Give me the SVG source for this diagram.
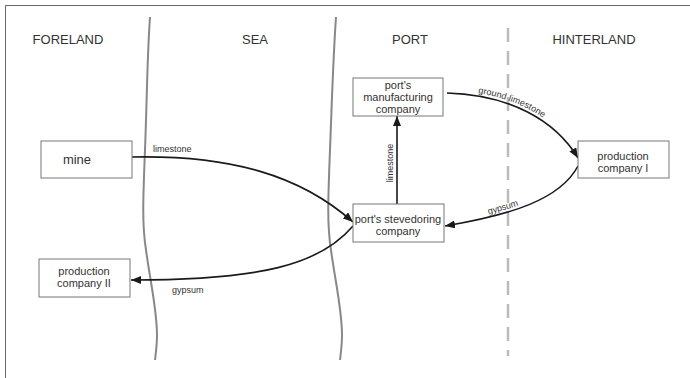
<svg xmlns="http://www.w3.org/2000/svg" width="690" height="378" viewBox="0 0 690 378">
<style>
.hdr{font-family:"Liberation Sans",Arial,sans-serif;font-size:13px;fill:#333;text-anchor:middle}
.bx{fill:#fff;stroke:#777;stroke-width:1}
.bt{font-family:"Liberation Sans",Arial,sans-serif;font-size:11px;fill:#333;text-anchor:middle}
.lb{font-family:"Liberation Sans",Arial,sans-serif;font-size:9px;fill:#333}
.con{fill:none;stroke:#1a1a1a;stroke-width:1.6}
.wave{fill:none;stroke:#888;stroke-width:2}
</style>
<defs>
<marker id="ah" markerUnits="userSpaceOnUse" markerWidth="10" markerHeight="8" refX="10" refY="4" orient="auto">
<path d="M0,0 L10,4 L0,8 z" fill="#1a1a1a"/>
</marker>
<path id="tp4" d="M447,93 C510,95 555,120 578,158"/>
<path id="tp5" d="M445,226 C510,215 560,200 578,166"/>
</defs>
<rect width="690" height="378" fill="#fff"/>
<g id="frame" fill="none" stroke="#666" stroke-width="1">
<line x1="5.5" y1="5.5" x2="690" y2="5.5"/>
<line x1="5.5" y1="5.5" x2="5.5" y2="378"/>
</g>
<g id="zones">
<path class="wave" d="M150,17 C147,60 147,100 145,150 C143,200 142,225 146,250 C150,280 157,310 157,335 C157,345 156,352 155,360"/>
<path class="wave" d="M336,17 C333,60 332,100 330,150 C328,200 327,225 331,250 C335,280 342,310 342,335 C342,345 341,352 340,360"/>
<line x1="508" y1="28" x2="508" y2="356" stroke="#bbb" stroke-width="2.5" stroke-dasharray="14 9"/>
<text class="hdr" x="68" y="44">FORELAND</text>
<text class="hdr" x="255" y="44">SEA</text>
<text class="hdr" x="410" y="44">PORT</text>
<text class="hdr" x="594" y="44">HINTERLAND</text>
</g>
<g id="connectors">
<path class="con" d="M132,157 C230,155 300,175 353,222" marker-end="url(#ah)"/>
<path class="con" d="M353,226 C320,265 260,280 131,280" marker-end="url(#ah)"/>
<path class="con" d="M397,204 L397,116" marker-end="url(#ah)"/>
<path class="con" d="M447,93 C510,95 555,120 578,158" marker-end="url(#ah)"/>
<path class="con" d="M578,166 C560,200 510,215 445,226" marker-end="url(#ah)"/>
<text class="lb" x="153" y="152">limestone</text>
<text class="lb" x="172" y="293">gypsum</text>
<text class="lb" text-anchor="middle" transform="translate(393,163) rotate(-90)">limestone</text>
<text class="lb" dy="-3"><textPath href="#tp4" startOffset="20%">ground limestone</textPath></text>
<text class="lb" dy="-3"><textPath href="#tp5" startOffset="30%">gypsum</textPath></text>
</g>
<g id="mine">
<rect class="bx" x="41" y="141" width="91" height="37"/>
<text class="bt" x="77" y="164" style="font-size:13px">mine</text>
</g>
<g id="production-company-II">
<rect class="bx" x="39" y="259" width="91" height="38"/>
<text class="bt" x="84" y="275">production</text>
<text class="bt" x="84" y="287">company II</text>
</g>
<g id="ports-manufacturing-company">
<rect class="bx" x="353" y="78" width="90" height="38"/>
<text class="bt" x="398" y="89">port's</text>
<text class="bt" x="398" y="101">manufacturing</text>
<text class="bt" x="398" y="113">company</text>
</g>
<g id="ports-stevedoring-company">
<rect class="bx" x="353" y="204" width="91" height="38"/>
<text class="bt" x="398" y="223">port's stevedoring</text>
<text class="bt" x="398" y="235">company</text>
</g>
<g id="production-company-I">
<rect class="bx" x="578" y="141" width="91" height="37"/>
<text class="bt" x="623" y="160">production</text>
<text class="bt" x="623" y="172">company I</text>
</g>
</svg>
